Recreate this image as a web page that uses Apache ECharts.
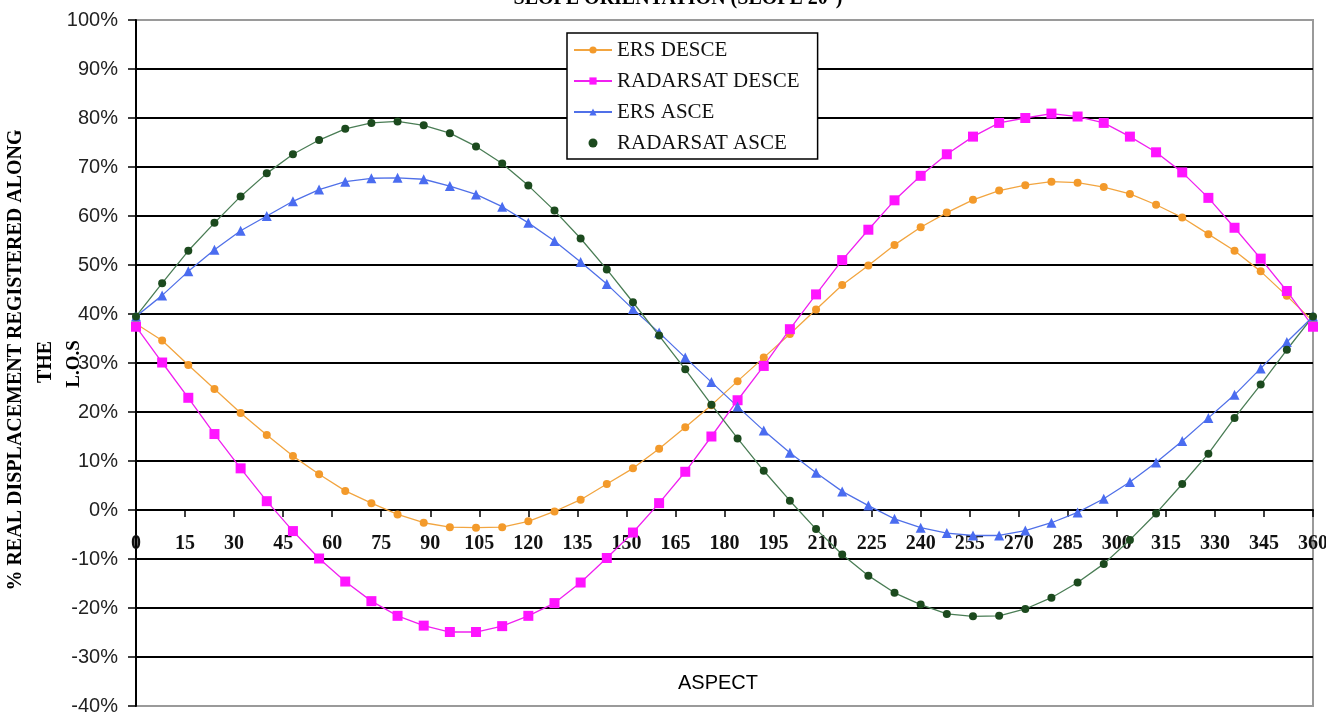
<!DOCTYPE html>
<html>
<head>
<meta charset="utf-8">
<script src="https://cdn.jsdelivr.net/npm/echarts@6/dist/echarts.min.js"></script>
<style>
html,body{margin:0;padding:0;background:#fff;}
#chart{width:1326px;height:721px;}
</style>
</head>
<body>
<div id="chart"></div>
<script>
// Aspect (degrees) of each sample
const aspect = [0, 8, 16, 24, 32, 40, 48, 56, 64, 72, 80, 88, 96, 104, 112, 120, 128, 136, 144, 152, 160, 168, 176, 184, 192, 200, 208, 216, 224, 232, 240, 248, 256, 264, 272, 280, 288, 296, 304, 312, 320, 328, 336, 344, 352, 360];

// % real displacement registered along the L.O.S
const ersDesce = [38.0, 34.6, 29.6, 24.7, 19.8, 15.3, 11.0, 7.3, 3.9, 1.4, -0.9, -2.6, -3.5, -3.6, -3.5, -2.3, -0.3, 2.1, 5.3, 8.5, 12.5, 16.9, 21.4, 26.3, 31.1, 35.9, 40.9, 45.9, 49.9, 54.1, 57.7, 60.7, 63.3, 65.2, 66.3, 67.0, 66.8, 65.9, 64.5, 62.3, 59.7, 56.3, 52.9, 48.7, 43.7, 38.5];
const radarsatDesce = [37.4, 30.1, 22.9, 15.5, 8.5, 1.8, -4.3, -9.9, -14.6, -18.6, -21.6, -23.6, -24.9, -24.9, -23.7, -21.6, -19.0, -14.8, -9.8, -4.6, 1.4, 7.8, 15.0, 22.4, 29.4, 36.9, 44.0, 51.0, 57.2, 63.2, 68.2, 72.6, 76.2, 79.0, 80.0, 80.9, 80.3, 79.0, 76.2, 73.0, 68.9, 63.7, 57.6, 51.3, 44.7, 37.4];
const ersAsce = [39.5, 43.8, 48.7, 53.1, 57.0, 60.0, 63.0, 65.4, 67.0, 67.7, 67.8, 67.5, 66.1, 64.4, 61.9, 58.6, 54.9, 50.6, 46.1, 41.0, 36.2, 31.1, 26.1, 21.1, 16.2, 11.7, 7.6, 3.8, 0.9, -1.8, -3.6, -4.7, -5.2, -5.2, -4.2, -2.6, -0.5, 2.3, 5.7, 9.7, 14.1, 18.8, 23.5, 28.9, 34.3, 39.5];
const radarsatAsce = [39.5, 46.3, 52.9, 58.6, 64.0, 68.7, 72.6, 75.5, 77.8, 79.0, 79.3, 78.5, 76.9, 74.2, 70.7, 66.2, 61.1, 55.4, 49.1, 42.4, 35.6, 28.7, 21.5, 14.6, 8.0, 1.9, -3.9, -9.1, -13.4, -16.9, -19.3, -21.2, -21.7, -21.6, -20.2, -17.9, -14.8, -11.0, -6.1, -0.7, 5.3, 11.5, 18.8, 25.6, 32.7, 39.5];

const seriesNames = ['ERS DESCE', 'RADARSAT DESCE', 'ERS ASCE', 'RADARSAT ASCE'];
const titleText = 'SLOPE ORIENTATION (SLOPE 20°)';
const yNameLine1 = '% REAL DISPLACEMENT REGISTERED ALONG';
const yNameLine2 = 'THE';
const yNameLine3 = 'L.O.S';
const xName = 'ASPECT';

function pairs(vals){ return aspect.map((a,i)=>[a, vals[i]]); }

const chart = echarts.init(document.getElementById('chart'), null, {renderer:'canvas'});
const serifBold = {fontFamily:'"Liberation Serif", "Times New Roman", serif', fontWeight:'bold', color:'#111'};

// grid: top 20, bottom edge at 706 -> 0% sits 196px above the bottom edge
const GRID_TOP = 20, GRID_BOTTOM = 15, Y_MIN = -40, Y_MAX = 100;
const plotH = 721 - GRID_TOP - GRID_BOTTOM;
const zeroOffset = plotH * (0 - Y_MIN) / (Y_MAX - Y_MIN);

chart.setOption({
  animation:false,
  backgroundColor:'#fff',
  grid:{left:136, right:13, top:GRID_TOP, bottom:GRID_BOTTOM, containLabel:false, outerBoundsMode:'none',
        show:true, borderColor:'#9a9a9a', borderWidth:2, backgroundColor:'transparent'},
  xAxis:{
    type:'value', min:0, max:360, interval:15, position:'bottom', offset:-zeroOffset,
    axisLine:{show:true, onZero:false, lineStyle:{color:'#000', width:2}},
    axisTick:{show:true, length:7, lineStyle:{color:'#000', width:1.5}},
    axisLabel:{margin:24, fontSize:20, fontFamily:'"Liberation Serif", serif', fontWeight:'bold', color:'#111', showMinLabel:true, showMaxLabel:true},
    splitLine:{show:false}
  },
  yAxis:{
    type:'value', min:Y_MIN, max:Y_MAX, interval:10,
    axisLine:{show:true, lineStyle:{color:'#000', width:2}},
    axisTick:{show:true, length:8, lineStyle:{color:'#000', width:1.5}},
    axisLabel:{margin:18, fontSize:20, fontFamily:'"Liberation Sans", Arial, sans-serif', color:'#222', formatter:'{value}%'},
    splitLine:{show:true, showMinLine:false, showMaxLine:false, lineStyle:{color:'#000', width:2}}
  },
  legend:{
    orient:'vertical', left:567, top:33,
    padding:[6, 18, 5, 6],
    backgroundColor:'#fff', borderColor:'#000', borderWidth:1.5,
    itemWidth:38, itemHeight:9, itemGap:9,
    textStyle:{fontSize:21, lineHeight:22, fontFamily:'"Liberation Serif", "Times New Roman", serif', color:'#111'},
    data:[seriesNames[0], seriesNames[1], seriesNames[2], {name:seriesNames[3], icon:'circle'}]
  },
  graphic:[
    {type:'text', x:678, y:-1, style:Object.assign({text:titleText, fontSize:20, textAlign:'center', textVerticalAlign:'middle'}, serifBold)},
    {type:'text', x:16, y:360, rotation:Math.PI/2, style:Object.assign({text:yNameLine1, fontSize:20, textAlign:'center', textVerticalAlign:'middle'}, serifBold)},
    {type:'text', x:46, y:362, rotation:Math.PI/2, style:Object.assign({text:yNameLine2, fontSize:20, textAlign:'center', textVerticalAlign:'middle'}, serifBold)},
    {type:'text', x:74, y:364, rotation:Math.PI/2, style:Object.assign({text:yNameLine3, fontSize:19, textAlign:'center', textVerticalAlign:'middle'}, serifBold)},
    {type:'text', x:718, y:683, style:{text:xName, fontSize:20, fontFamily:'"Liberation Sans", Arial, sans-serif', color:'#222', textAlign:'center', textVerticalAlign:'middle'}}
  ],
  series:[
    {name:seriesNames[0], type:'line', data:pairs(ersDesce), symbol:'circle', symbolSize:8,
     itemStyle:{color:'#f39a2b'}, lineStyle:{color:'#f2a540', width:1.3}},
    {name:seriesNames[1], type:'line', data:pairs(radarsatDesce), symbol:'rect', symbolSize:10,
     itemStyle:{color:'#ff14ff'}, lineStyle:{color:'#f020f0', width:1.3}},
    {name:seriesNames[2], type:'line', data:pairs(ersAsce), symbol:'triangle', symbolSize:10,
     itemStyle:{color:'#4a6cf0'}, lineStyle:{color:'#5070e8', width:1.3}},
    {name:seriesNames[3], type:'line', data:pairs(radarsatAsce), symbol:'circle', symbolSize:8,
     itemStyle:{color:'#1c4a1e'}, lineStyle:{color:'#4a7d55', width:1.3}}
  ]
});
</script>
</body>
</html>
